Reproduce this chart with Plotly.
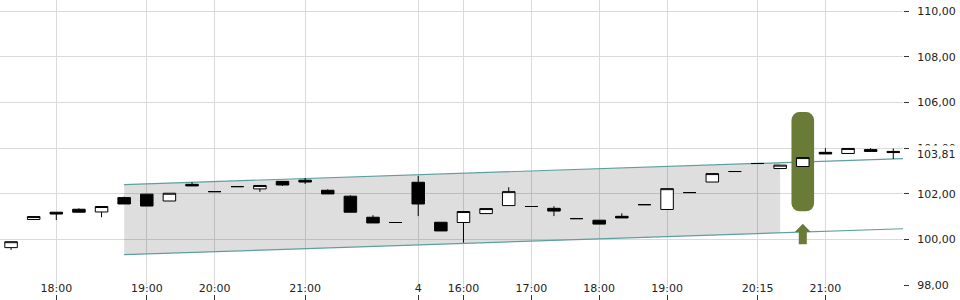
import plotly.graph_objects as go

# ---- candle data (index positions, 15-minute bars) ----
idx = list(range(40))
opens = [99.65, 100.88, 101.20, 101.33, 101.21, 101.84, 101.99, 101.69, 102.42, 102.10,
         102.32, 102.22, 102.55, 102.60, 102.16, 101.90, 100.98, 100.75, 102.51, 100.76,
         100.75, 101.14, 101.49, 101.45, 101.37, 100.92, 100.85, 101.02, 101.53, 101.32,
         102.06, 102.52, 102.98, 103.33, 103.11, 103.20, 103.82, 103.77, 103.94, 103.86]
highs = [99.91, 101.01, 101.20, 101.37, 101.45, 101.88, 101.99, 102.03, 102.51, 102.10,
         102.32, 102.37, 102.55, 102.69, 102.20, 101.94, 101.07, 100.75, 102.79, 100.76,
         101.23, 101.36, 102.29, 101.45, 101.46, 100.92, 100.85, 101.15, 101.53, 102.23,
         102.06, 102.89, 102.98, 103.33, 103.26, 103.59, 104.00, 103.99, 104.00, 103.99]
lows = [99.55, 100.88, 100.86, 101.20, 100.98, 101.56, 101.47, 101.69, 102.35, 102.10,
        102.32, 102.09, 102.35, 102.44, 102.00, 101.20, 100.73, 100.75, 101.03, 100.38,
        99.87, 101.14, 101.49, 101.45, 101.03, 100.92, 100.68, 100.95, 101.53, 101.32,
        102.06, 102.52, 102.98, 103.33, 103.11, 103.20, 103.75, 103.77, 103.86, 103.53]
closes = [99.91, 101.01, 101.12, 101.20, 101.45, 101.56, 101.47, 102.03, 102.35, 102.10,
          102.32, 102.37, 102.39, 102.52, 102.00, 101.20, 100.73, 100.75, 101.56, 100.38,
          101.23, 101.36, 102.10, 101.45, 101.25, 100.92, 100.68, 100.95, 101.53, 102.23,
          102.06, 102.89, 102.98, 103.33, 103.26, 103.59, 103.75, 103.99, 103.86, 103.81]

tick_idx = [2, 6, 9, 13, 18, 20, 23, 26, 29, 33, 36]
tick_text = ["18:00", "19:00", "20:00", "21:00", "4", "16:00", "17:00", "18:00", "19:00", "20:15", "21:00"]

y_ticks = [98, 100, 102, 104, 106, 108, 110]
last_price = 103.81

# ---- trend channel ----
channel_start = 5
channel_fill_end = 34
channel_line_end = 39.6
channel_upper0 = 102.41
channel_lower0 = 99.34
channel_slope = 0.033

# ---- signal ----
signal_idx = 35
signal_low = 101.24
signal_high = 105.58
arrow_top = 100.70
arrow_neck = 100.33
arrow_base = 99.80

OLIVE = "#6a7b38"
TEAL = "#5f9ea0"
GRID = "#dadada"
TXT = "#222222"
FONT = "DejaVu Sans"

X_RANGE = [-0.489, 39.43]
Y_RANGE = [97.985, 110.485]


def upper(i):
    return channel_upper0 + channel_slope * (i - channel_start)


def lower(i):
    return channel_lower0 + channel_slope * (i - channel_start)


fig = go.Figure()

fig.add_trace(go.Bar(
    x=[signal_idx], y=[signal_high - signal_low], base=[signal_low], width=[1.0],
    marker=dict(color=OLIVE, cornerradius=8, line=dict(width=0)),
    hoverinfo="skip",
))

fig.add_trace(go.Candlestick(
    x=idx, open=opens, high=highs, low=lows, close=closes,
    increasing=dict(fillcolor="white", line=dict(color="black", width=1)),
    decreasing=dict(fillcolor="black", line=dict(color="black", width=1)),
    whiskerwidth=0,
))

# dummy trace to create lower tick-mark axis
fig.add_trace(go.Scatter(x=[None], y=[None], xaxis="x2", yaxis="y", showlegend=False, hoverinfo="skip"))

shapes = []
fs, fe = channel_start, channel_fill_end
shapes.append(dict(
    type="path", xref="x", yref="y", layer="between",
    path=f"M {fs},{upper(fs)} L {fe},{upper(fe)} L {fe},{lower(fe)} L {fs},{lower(fs)} Z",
    fillcolor="rgba(0,0,0,0.13)", line=dict(width=0),
))
for fn in (upper, lower):
    shapes.append(dict(
        type="line", xref="x", yref="y", layer="between",
        x0=channel_start, y0=fn(channel_start), x1=channel_line_end, y1=fn(channel_line_end),
        line=dict(color=TEAL, width=1.2),
    ))
hw, sw = 0.354, 0.177
c = signal_idx
shapes.append(dict(
    type="path", xref="x", yref="y", layer="above",
    path=(f"M {c - hw},{arrow_neck} L {c},{arrow_top} L {c + hw},{arrow_neck} "
          f"L {c + sw},{arrow_neck} L {c + sw},{arrow_base} L {c - sw},{arrow_base} "
          f"L {c - sw},{arrow_neck} Z"),
    fillcolor=OLIVE, line=dict(width=0),
))

fig.update_layout(
    width=960, height=300,
    margin=dict(l=0, r=57, t=0, b=0, autoexpand=False),
    paper_bgcolor="white", plot_bgcolor="white",
    showlegend=False,
    separators=",.",
    font=dict(family=FONT, size=11, color=TXT),
    boxgap=0.21,
    shapes=shapes,
    xaxis=dict(
        range=X_RANGE, rangeslider=dict(visible=False), automargin=False,
        tickmode="array", tickvals=tick_idx, ticktext=tick_text,
        showgrid=True, gridcolor=GRID, gridwidth=1,
        ticks="", zeroline=False, showline=False,
        tickfont=dict(family=FONT, size=11, color=TXT),
        ticklabelstandoff=-6,
        anchor="y",
    ),
    xaxis2=dict(
        range=X_RANGE, overlaying="x", anchor="free", position=0.02, automargin=False,
        tickmode="array", tickvals=tick_idx, showticklabels=False,
        ticks="outside", ticklen=6, tickcolor="#333333", tickwidth=1,
        showgrid=False, zeroline=False, showline=False,
    ),
    yaxis=dict(
        range=Y_RANGE, domain=[0.0477, 1], side="right", automargin=False,
        tickmode="array", tickvals=y_ticks, tickformat=".2f",
        showgrid=True, gridcolor=GRID, gridwidth=1,
        ticks="outside", ticklen=5, tickcolor="#333333", tickwidth=1,
        zeroline=False, showline=False,
        tickfont=dict(family=FONT, size=11, color=TXT),
        ticklabelstandoff=6,
    ),
    annotations=[dict(
        x=1, xref="paper", xanchor="left", xshift=11,
        y=last_price, yref="y", yanchor="middle", yshift=-1.5,
        text=f"{last_price:.2f}".replace(".", ","), showarrow=False,
        bgcolor="white", borderpad=2,
        font=dict(family=FONT, size=11, color=TXT),
    )],
)

fig.write_html("out.html")
